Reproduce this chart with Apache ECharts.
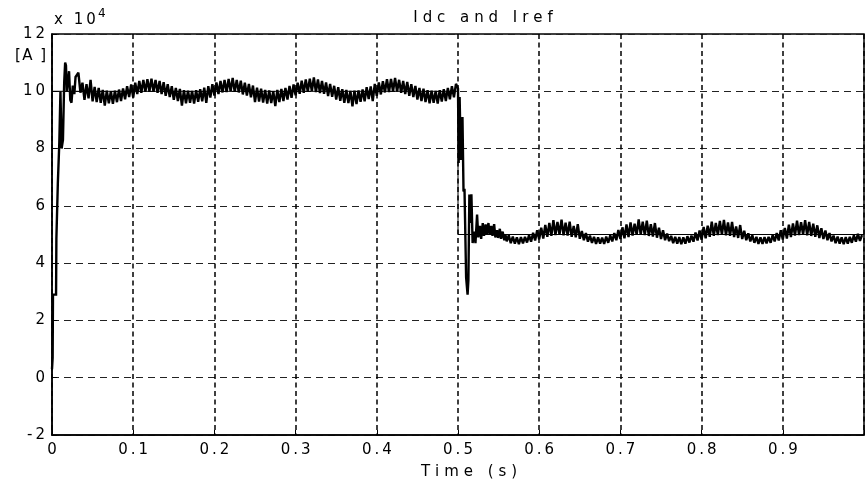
<!DOCTYPE html>
<html>
<head>
<meta charset="utf-8">
<title>Idc and Iref</title>
<script src="https://cdn.jsdelivr.net/npm/echarts@6/dist/echarts.min.js"></script>
<style>
  html, body { margin: 0; padding: 0; background: #fff; }
  #main { width: 867px; height: 485px; }
</style>
</head>
<body>
<div id="main"></div>
<script>
// all currents in units of 10^4 A
// start-up transient
var startT = [0, 0.0008, 0.0012, 0.0050, 0.0054, 0.0068, 0.0072, 0.0086, 0.0090, 0.0100, 0.0104, 0.0112, 0.0118,
  0.0135, 0.0150, 0.0162, 0.0172, 0.0182, 0.0195, 0.0210, 0.0225, 0.0240, 0.0256, 0.0275, 0.0290];
var startV = [0.3, 0.7, 2.9, 2.9, 4.85, 4.85, 6.8, 6.8, 8.2, 8.2, 10.0, 10.0, 8.0,
  8.3, 10.3, 11.0, 10.9, 10.0, 10.3, 10.7, 9.7, 9.6, 10.2, 9.9, 10.5];

// ripple around 10, sampled every 2.5 ms from 0.03 s
var ripple1Start = 0.03;
var ripple1Step = 0.0025;
var ripple1 = [
  10.45, 10.65, 9.95, 10.30, 9.70, 10.25, 9.75, 10.40, 9.65, 10.15, 9.62, 10.12, 9.60, 10.05, 9.50, 10.02, 9.58, 10.00, 9.56, 10.02,
  9.62, 10.06, 9.66, 10.10, 9.72, 10.18, 9.80, 10.24, 9.78, 10.30, 9.90, 10.36, 9.95, 10.40, 9.98, 10.42, 10.00, 10.44, 9.98, 10.40,
  9.95, 10.36, 9.90, 10.32, 9.84, 10.25, 9.80, 10.18, 9.70, 10.12, 9.66, 10.08, 9.50, 10.04, 9.58, 10.02, 9.60, 10.01, 9.57, 10.04,
  9.63, 10.07, 9.65, 10.13, 9.60, 10.18, 9.78, 10.25, 9.85, 10.31, 9.90, 10.36, 9.96, 10.40, 9.97, 10.43, 10.00, 10.47, 9.98, 10.40,
  9.96, 10.37, 9.89, 10.30, 9.85, 10.26, 9.79, 10.20, 9.62, 10.13, 9.64, 10.09, 9.61, 10.05, 9.57, 10.03, 9.59, 10.00, 9.48, 10.05,
  9.62, 10.08, 9.66, 10.12, 9.71, 10.19, 9.77, 10.24, 9.86, 10.30, 9.91, 10.37, 9.95, 10.41, 9.99, 10.44, 10.01, 10.48, 9.97, 10.41,
  9.94, 10.36, 9.91, 10.31, 9.83, 10.26, 9.81, 10.19, 9.71, 10.14, 9.67, 10.07, 9.60, 10.05, 9.59, 10.01, 9.47, 10.02, 9.55, 10.03,
  9.63, 10.06, 9.65, 10.14, 9.73, 10.17, 9.66, 10.26, 9.84, 10.31, 9.89, 10.35, 9.96, 10.42, 9.97, 10.43, 10.00, 10.47, 9.99, 10.40,
  9.95, 10.36, 9.90, 10.33, 9.84, 10.25, 9.80, 10.19, 9.71, 10.12, 9.66, 10.09, 9.62, 10.04, 9.58, 10.02, 9.60, 10.01, 9.57, 10.04,
  9.64, 10.07, 9.66, 10.12, 9.72, 10.18, 9.79, 10.26
];

// step down of the reference at 0.5 s
var dropT = [0.4990, 0.5000, 0.5008, 0.5020, 0.5035, 0.5055, 0.5068, 0.5080, 0.5100, 0.5118, 0.5128, 0.5140, 0.5152,
  0.5165, 0.5180, 0.5200, 0.5215, 0.5235, 0.5250, 0.5270, 0.5285, 0.5305, 0.5320, 0.5340, 0.5355, 0.5375,
  0.5390, 0.5410, 0.5425, 0.5445, 0.5460, 0.5480, 0.5495, 0.5515, 0.5530, 0.5550, 0.5570, 0.5585];
var dropV = [10.30, 10.10, 7.50, 9.80, 7.60, 9.10, 6.50, 6.60, 3.50, 2.90, 3.40, 6.40, 5.40,
  6.40, 4.70, 5.10, 4.70, 5.70, 4.90, 5.30, 4.85, 5.40, 4.95, 5.35, 5.00, 5.40,
  5.00, 5.30, 4.95, 5.36, 4.90, 5.15, 4.88, 5.20, 4.85, 5.10, 4.80, 4.98];

// ripple around 5, sampled every 2.5 ms from 0.56 s
var ripple2Start = 0.56;
var ripple2Step = 0.0025;
var ripple2 = [
  4.76, 4.97, 4.70, 4.93, 4.68, 4.90, 4.66, 4.91, 4.69, 4.92, 4.72, 4.98, 4.75, 5.06, 4.79, 5.15, 4.83, 5.24, 4.86, 5.33,
  4.92, 5.40, 4.95, 5.50, 4.98, 5.44, 5.00, 5.52, 4.97, 5.41, 4.96, 5.45, 4.92, 5.30, 4.90, 5.36, 4.85, 5.12, 4.80, 5.05,
  4.75, 4.96, 4.71, 4.92, 4.67, 4.90, 4.68, 4.89, 4.67, 4.93, 4.71, 4.97, 4.76, 5.05, 4.80, 5.16, 4.84, 5.25, 4.87, 5.35,
  4.91, 5.42, 4.96, 5.38, 4.99, 5.53, 5.00, 5.45, 4.98, 5.48, 4.95, 5.36, 4.93, 5.40, 4.89, 5.24, 4.84, 5.15, 4.80, 5.03,
  4.77, 4.95, 4.70, 4.92, 4.68, 4.91, 4.66, 4.90, 4.68, 4.94, 4.72, 4.96, 4.75, 5.07, 4.79, 5.14, 4.82, 5.26, 4.87, 5.31,
  4.92, 5.45, 4.95, 5.40, 4.98, 5.47, 4.99, 5.51, 4.97, 5.42, 4.95, 5.44, 4.91, 5.28, 4.88, 5.33, 4.84, 5.13, 4.80, 5.04,
  4.76, 4.97, 4.71, 4.92, 4.67, 4.90, 4.67, 4.91, 4.69, 4.92, 4.71, 4.98, 4.76, 5.05, 4.79, 5.15, 4.83, 5.23, 4.86, 5.34,
  4.91, 5.39, 4.96, 5.48, 4.98, 5.43, 5.00, 5.50, 4.97, 5.44, 4.95, 5.38, 4.92, 5.32, 4.88, 5.22, 4.84, 5.14, 4.80, 5.05,
  4.76, 4.96, 4.70, 4.93, 4.68, 4.90, 4.66, 4.91, 4.68, 4.92, 4.71, 4.97, 4.75, 5.02, 4.78, 4.98
];

// reference current
var refT = [0, 0.5, 0.5, 1.0];
var refV = [10, 10, 5, 5];

// axes
var xMin = 0, xMax = 1, xStep = 0.1;
var yMin = -2, yMax = 12, yStep = 2;

function pairs(ts, vs) {
  return ts.map(function (t, i) { return [t, vs[i]]; });
}
function sampled(t0, dt, vs) {
  return vs.map(function (v, i) { return [+(t0 + i * dt).toFixed(4), v]; });
}
// the original text is set with wide letter spacing
function spread(s, gap) {
  return s.split('').join(gap);
}

var idcData = pairs(startT, startV)
  .concat(sampled(ripple1Start, ripple1Step, ripple1))
  .concat(pairs(dropT, dropV))
  .concat(sampled(ripple2Start, ripple2Step, ripple2));
var refData = pairs(refT, refV);

var FONT = 'DejaVu Sans';
var THIN = '\u2009';

var chartDom = document.getElementById('main');
var myChart = echarts.init(chartDom);
var option;

option = {
  animation: false,
  backgroundColor: '#fff',
  title: {
    text: spread('Idc and Iref', '\u2004'),
    left: 478,
    top: 6,
    textAlign: 'center',
    textStyle: { fontFamily: FONT, fontSize: 15, fontWeight: 'normal', color: '#000' }
  },
  grid: {
    left: 52,
    top: 34,
    width: 820,
    height: 401,
    show: true,
    borderColor: '#000',
    borderWidth: 1.5
  },
  graphic: [
    {
      type: 'text', left: 15, top: 49,
      style: { text: spread('[A ]', '\u200a'), fill: '#000', font: '15px "DejaVu Sans"' }
    },
    {
      type: 'text', left: 54, top: 13,
      style: { text: spread('x 10', THIN), fill: '#000', font: '15px "DejaVu Sans"' }
    },
    {
      type: 'text', left: 98, top: 8,
      style: { text: '4', fill: '#000', font: '12px "DejaVu Sans"' }
    }
  ],
  xAxis: {
    type: 'value',
    min: xMin,
    max: xMax,
    interval: xStep,
    name: spread('Time (s)', '\u2004'),
    nameLocation: 'middle',
    nameGap: 30,
    nameTextStyle: { fontFamily: FONT, fontSize: 15, color: '#000', padding: [0, 0, 0, 22] },
    axisLine: { show: true, onZero: false, lineStyle: { color: '#000', width: 1.5 } },
    axisTick: { show: true, inside: true, length: 5, lineStyle: { color: '#000' } },
    axisLabel: {
      margin: 8,
      color: '#000',
      fontFamily: FONT,
      fontSize: 15,
      formatter: function (v) {
        var r = Math.round(v * 10) / 10;
        if (r >= 1) return '';
        return spread(r === 0 ? '0' : r.toFixed(1), THIN);
      }
    },
    splitLine: { show: true, lineStyle: { color: '#000', width: 1.5, type: [5, 3.5] } }
  },
  yAxis: {
    type: 'value',
    min: yMin,
    max: yMax,
    interval: yStep,
    axisLine: { show: true, onZero: false, lineStyle: { color: '#000', width: 1.5 } },
    axisTick: { show: true, inside: true, length: 5, lineStyle: { color: '#000' } },
    axisLabel: {
      margin: 7,
      color: '#000',
      fontFamily: FONT,
      fontSize: 15,
      formatter: function (v) { return spread(String(v), THIN); }
    },
    splitLine: { show: true, lineStyle: { color: '#222', width: 1, type: [7, 5] } }
  },
  series: [
    {
      name: 'Iref',
      type: 'line',
      data: refData,
      showSymbol: false,
      symbol: 'none',
      lineStyle: { color: '#000', width: 1 }
    },
    {
      name: 'Idc',
      type: 'line',
      data: idcData,
      showSymbol: false,
      symbol: 'none',
      lineStyle: { color: '#000', width: 2.4, join: 'miter', miterLimit: 2 }
    }
  ]
};

option && myChart.setOption(option);
</script>
</body>
</html>
